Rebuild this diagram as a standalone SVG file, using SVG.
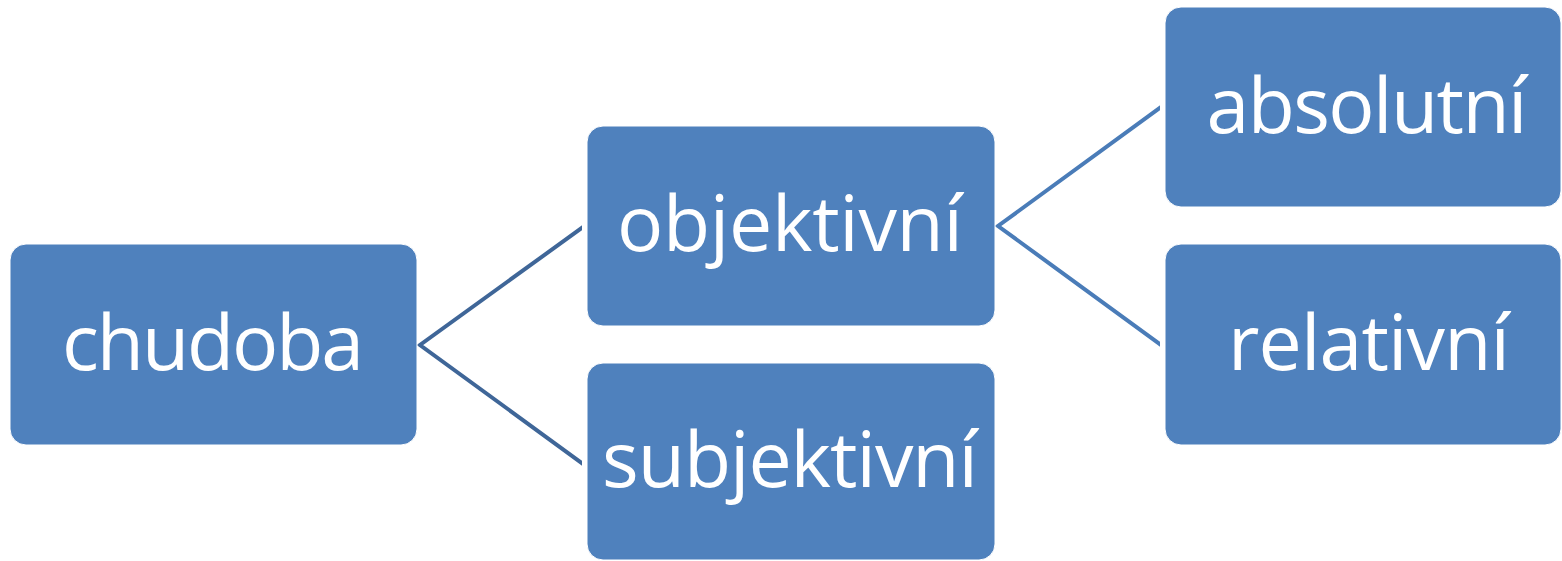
<svg xmlns="http://www.w3.org/2000/svg" width="1562" height="561" viewBox="0 0 1562 561">
<style>
.node rect{fill:#4F81BD;stroke:#ffffff;stroke-width:1}
.node text{fill:#ffffff;font-family:"Open Sans","Noto Sans",sans-serif;font-size:77px;text-anchor:middle}
.c1{stroke:#3F6698;stroke-width:4;fill:none}
.c2{stroke:#4A7CB8;stroke-width:4;fill:none}
</style>
<defs>
<clipPath id="clipA"><rect x="416" y="200" width="166" height="290"/></clipPath>
<clipPath id="clipB"><rect x="994" y="80" width="166" height="290"/></clipPath>
</defs>
<rect width="1562" height="561" fill="#ffffff"/>
<g id="connectors">
<path class="c1" clip-path="url(#clipA)" d="M590 222 L420 345 L590 469"/>
<path class="c2" clip-path="url(#clipB)" d="M1168 102 L998 226 L1168 350"/>
</g>
<g id="node-chudoba" class="node">
<rect x="10" y="244" width="407" height="201" rx="16"/>
<text x="213" y="370" textLength="302" lengthAdjust="spacing">chudoba</text>
</g>
<g id="node-objektivni" class="node">
<rect x="587" y="126" width="408" height="200" rx="16"/>
<text x="790" y="251" textLength="346" lengthAdjust="spacing">objektivní</text>
</g>
<g id="node-subjektivni" class="node">
<rect x="587" y="363" width="408" height="197" rx="16"/>
<text x="790" y="487" textLength="376" lengthAdjust="spacing">subjektivní</text>
</g>
<g id="node-absolutni" class="node">
<rect x="1165" y="7" width="396" height="200" rx="16"/>
<text x="1367" y="133" textLength="321" lengthAdjust="spacing">absolutní</text>
</g>
<g id="node-relativni" class="node">
<rect x="1165" y="244" width="396" height="201" rx="16"/>
<text x="1369" y="370" textLength="282" lengthAdjust="spacing">relativní</text>
</g>
</svg>
